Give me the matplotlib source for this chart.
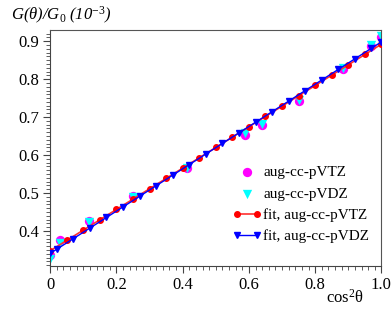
import numpy as np
import matplotlib
matplotlib.use('Agg')
import matplotlib.pyplot as plt
from matplotlib.ticker import MultipleLocator

# computed points (cos^2 theta, G/G0 in 1e-3)
x_data = [0.0, 0.030, 0.117, 0.250, 0.413, 0.587, 0.638, 0.750, 0.883, 0.970, 1.0]
g_vtz = [0.337, 0.376, 0.427, 0.493, 0.567, 0.653, 0.679, 0.742, 0.826, 0.887, 0.910]
g_vdz = [0.327, 0.369, 0.423, 0.490, 0.566, 0.658, 0.681, 0.745, 0.830, 0.891, 0.914]

# fit lines: intercept, slope and marker positions
fit_vtz = (0.348, 0.544)
fit_vdz = (0.341, 0.557)
fit_x_vtz = [0.0, 0.05, 0.10, 0.15, 0.20, 0.25, 0.30, 0.35, 0.40, 0.45, 0.50,
             0.55, 0.60, 0.65, 0.70, 0.75, 0.80, 0.85, 0.90, 0.95, 1.0]
fit_x_vdz = [0.0, 0.02, 0.07, 0.12, 0.17, 0.22, 0.27, 0.32, 0.37, 0.42, 0.47,
             0.52, 0.57, 0.62, 0.67, 0.72, 0.77, 0.82, 0.87, 0.92, 0.97, 1.0]

plt.rcParams['font.family'] = 'Liberation Serif'
plt.rcParams['mathtext.fontset'] = 'custom'
plt.rcParams['mathtext.rm'] = 'Liberation Serif'
plt.rcParams['mathtext.it'] = 'Liberation Serif:italic'

fig = plt.figure(figsize=(3.92, 3.17), dpi=100)
ax = fig.add_axes([0.128, 0.161, 0.845, 0.744])

ax.scatter(x_data, g_vtz, s=45, color='#ff00ff', marker='o', linewidths=0,
           label='aug-cc-pVTZ', zorder=2)
ax.scatter(x_data, g_vdz, s=45, color='#00ffff', marker='v', linewidths=0,
           label='aug-cc-pVDZ', zorder=2)

xt = np.array(fit_x_vtz)
xd = np.array(fit_x_vdz)
ax.plot(xt, fit_vtz[0] + fit_vtz[1] * xt, color='#ff3030', marker='o', ms=4,
        mfc='#ff0000', mec='#ff0000', lw=1.2, label='fit, aug-cc-pVTZ', zorder=3)
ax.plot(xd, fit_vdz[0] + fit_vdz[1] * xd, color='#0000ff', marker='v', ms=3.8,
        lw=1.0, label='fit, aug-cc-pVDZ', zorder=4)

ax.set_xlim(0, 1)
ax.set_ylim(0.308, 0.929)
ax.xaxis.set_major_locator(MultipleLocator(0.2))
ax.xaxis.set_minor_locator(MultipleLocator(0.02))
ax.yaxis.set_major_locator(MultipleLocator(0.1))
ax.yaxis.set_minor_locator(MultipleLocator(0.01))
ax.xaxis.set_major_formatter(plt.FuncFormatter(lambda v, p: '0' if v == 0 else ('1' if v == 1 else '%.1f' % v)))

for s in ['top', 'right']:
    ax.spines[s].set_color('#555555')
    ax.spines[s].set_linewidth(0.8)
for s in ['left', 'bottom']:
    ax.spines[s].set_color('#444444')
    ax.spines[s].set_linewidth(0.8)
ax.tick_params(which='major', direction='out', length=5, width=0.8, color='#444444',
               labelsize=12, pad=3)
ax.tick_params(which='minor', direction='out', length=3, width=0.6, color='#444444')

fig.text(0.028, 0.95, r'G(θ)/G$_{\mathit{0}}$ (10$^{\mathit{-3}}$)', fontsize=12,
         style='italic', va='center', ha='left')
fig.text(0.88, 0.06, r'cos$^{2}$θ', fontsize=12, va='center', ha='center')

ax.legend(loc='lower right', bbox_to_anchor=(0.995, 0.05), frameon=False, fontsize=11,
          scatterpoints=1, numpoints=2, handlelength=1.9, handletextpad=0.1,
          labelspacing=0.5, borderpad=0.2)

fig.savefig('out.png', dpi=100)
